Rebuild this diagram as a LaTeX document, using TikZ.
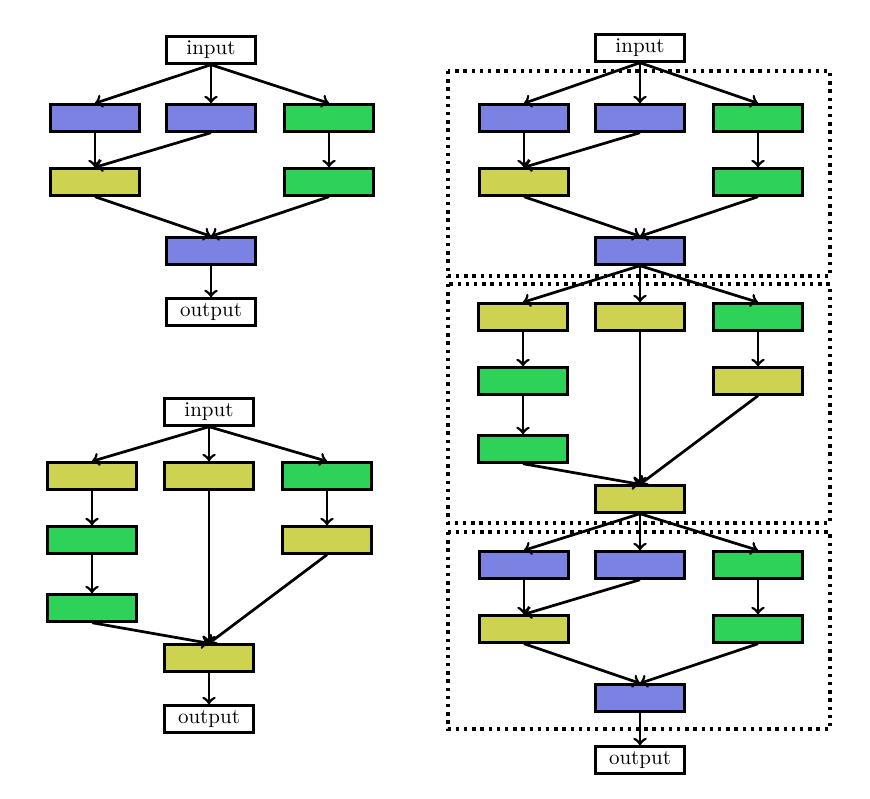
\documentclass[tikz,border=0pt]{standalone}
\usepackage{tikz}
\definecolor{cblue}{RGB}{124,130,226}
\definecolor{cgreen}{RGB}{46,210,88}
\definecolor{cyellow}{RGB}{205,210,80}

\begin{document}
\begin{tikzpicture}[x=0.476pt, y=-0.476pt,
    box/.style={draw, line width=1.5pt, minimum width=42.3pt, minimum height=12.5pt, inner sep=0pt},
    flow/.style={->, line width=1.3pt},
    dotbox/.style={line width=1.6pt, dash pattern=on 1.6pt off 2.3pt}]
  \useasboundingbox (0,0) rectangle (870,798);
  % dotted frames of the stacked version
  \draw[dotbox] (448,71) rectangle (830,276);
  \draw[dotbox] (448,284) rectangle (830,523);
  \draw[dotbox] (448,532) rectangle (830,729);
  % cell of the first kind: two blues and a green
  \foreach \s/\x/\y in {p/211/118, q/640/118, r/640/565} {
    \node[box, fill=cblue]   (\s1) at (\x-116,\y) {};
    \node[box, fill=cblue]   (\s2) at (\x,\y) {};
    \node[box, fill=cgreen]  (\s3) at (\x+118,\y) {};
    \node[box, fill=cyellow] (\s4) at (\x-116,\y+64) {};
    \node[box, fill=cgreen]  (\s5) at (\x+118,\y+64) {};
    \node[box, fill=cblue]   (\s6) at (\x,\y+133) {};
    \draw[flow] (\s1.south) -- (\s4.north);
    \draw[flow] (\s2.south) -- (\s4.north);
    \draw[flow] (\s3.south) -- (\s5.north);
    \draw[flow] (\s4.south) -- (\s6.north);
    \draw[flow] (\s5.south) -- (\s6.north);
  }
  % cell of the second kind: chains of length three, one and two
  \foreach \s/\x/\y in {u/209/476, s/640/317} {
    \node[box, fill=cyellow] (\s1) at (\x-117,\y) {};
    \node[box, fill=cyellow] (\s2) at (\x,\y) {};
    \node[box, fill=cgreen]  (\s3) at (\x+118,\y) {};
    \node[box, fill=cgreen]  (\s4) at (\x-117,\y+64) {};
    \node[box, fill=cyellow] (\s5) at (\x+118,\y+64) {};
    \node[box, fill=cgreen]  (\s6) at (\x-117,\y+132) {};
    \node[box, fill=cyellow] (\s7) at (\x,\y+182) {};
    \draw[flow] (\s1.south) -- (\s4.north);
    \draw[flow] (\s4.south) -- (\s6.north);
    \draw[flow] (\s6.south) -- (\s7.north);
    \draw[flow] (\s2.south) -- (\s7.north);
    \draw[flow] (\s3.south) -- (\s5.north);
    \draw[flow] (\s5.south) -- (\s7.north);
  }
  % inputs and outputs
  \node[box, fill=white] (pin)  at (211,50)  {input};
  \node[box, fill=white] (pout) at (211,312) {output};
  \node[box, fill=white] (uin)  at (209,412) {input};
  \node[box, fill=white] (uout) at (209,719) {output};
  \node[box, fill=white] (qin)  at (640,48)  {input};
  \node[box, fill=white] (rout) at (640,760) {output};
  \foreach \a/\b in {pin/p, uin/u, qin/q, q6/s, s7/r}
    \foreach \i in {1,2,3}
      \draw[flow] (\a.south) -- (\b\i.north);
  \draw[flow] (p6.south) -- (pout.north);
  \draw[flow] (u7.south) -- (uout.north);
  \draw[flow] (r6.south) -- (rout.north);
\end{tikzpicture}
\end{document}
